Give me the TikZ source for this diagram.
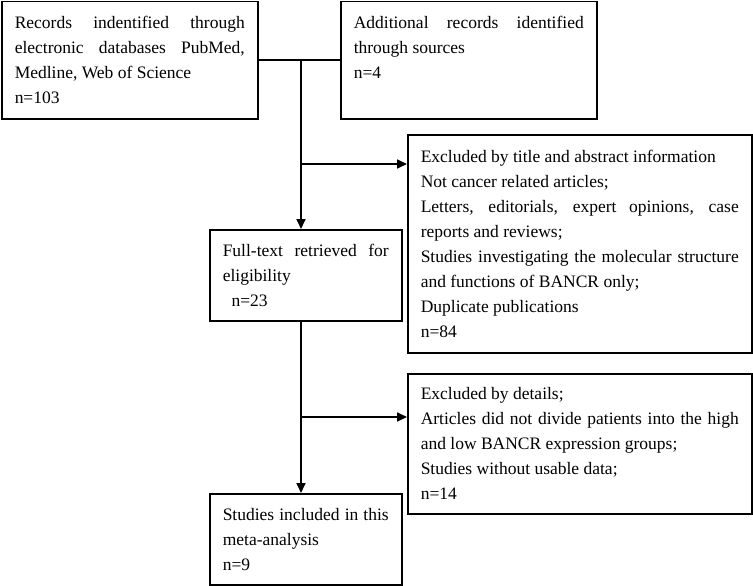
\documentclass[tikz,border=0pt]{standalone}
\usepackage{fontspec}
\setmainfont{Liberation Serif}
\usetikzlibrary{arrows.meta}
\setlength{\parindent}{0pt}

\tikzset{
    box/.style={draw, line width=1.5pt, anchor=north west, inner xsep=13pt, inner ysep=0pt,
        align=justify, font=\fontsize{17.5pt}{25pt}\selectfont},
    link/.style={line width=1.7pt},
    arr/.style={line width=1.7pt, -{Triangle[length=10pt,width=9pt]}},
}

\begin{document}
\begin{tikzpicture}[x=1pt,y=-1pt]
    \useasboundingbox (0,0) rectangle (753,586);

    % identification
    \node[box, minimum width=256, minimum height=117, text width=230pt] (rec) at (1,1)
        {Records indentified through\linebreak electronic databases PubMed,\linebreak Medline, Web of Science\\ n=103};
    \node[box, minimum width=256, minimum height=117, text width=230pt] (add) at (340,1)
        {Additional records identified\linebreak through sources\\ n=4\\ \mbox{}};

    % screening
    \node[box, minimum width=192, minimum height=91, text width=166pt] (full) at (209,229)
        {Full-text retrieved for\linebreak eligibility\\ \hspace*{0.5em}n=23};
    \node[box, minimum width=344, minimum height=218, text width=318pt] (excl1) at (407,134)
        {Excluded by title and abstract information\\ Not cancer related articles;\\
         Letters, editorials, expert opinions, case\linebreak reports and reviews;\\
         Studies investigating the molecular structure\linebreak and functions of BANCR only;\\
         Duplicate publications\\ n=84};

    % included
    \node[box, minimum width=192, minimum height=91, text width=166pt] (incl) at (209,493)
        {Studies included in this\linebreak meta-analysis\\ n=9};
    \node[box, minimum width=344, minimum height=140, text width=318pt] (excl2) at (407,373)
        {Excluded by details;\\ Articles did not divide patients into the high\linebreak and low BANCR expression groups;\\
         Studies without usable data;\\ n=14};

    % connectors
    \coordinate (spine) at (301,0);
    \coordinate (out1) at (301,164);
    \coordinate (out2) at (301,417);
    \draw[link] (rec.east) -- (add.west);
    \draw[arr] (rec.east -| spine) -- (full.north -| spine);
    \draw[arr] (out1) -- (out1 -| excl1.west);
    \draw[arr] (full.south -| spine) -- (incl.north -| spine);
    \draw[arr] (out2) -- (out2 -| excl2.west);
\end{tikzpicture}
\end{document}
